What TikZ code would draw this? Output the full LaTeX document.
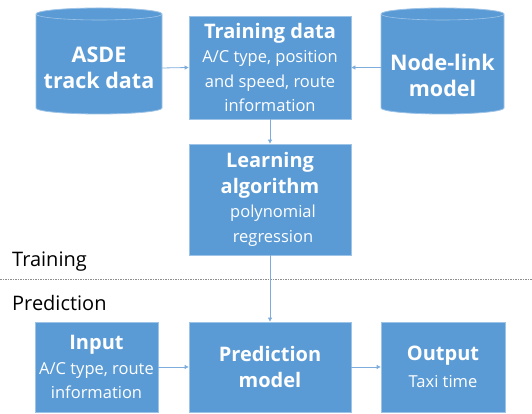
\documentclass[tikz,border=0pt]{standalone}
\usepackage{fontspec}
\setmainfont{Open Sans}
\usetikzlibrary{arrows.meta}
\definecolor{boxblue}{HTML}{5B9BD5}
\definecolor{edgeblue}{HTML}{9DC3E6}
\definecolor{linkblue}{HTML}{7EADDD}
\definecolor{dashgray}{HTML}{8C8C8C}
\tikzset{
  bluebox/.style={rectangle, fill=boxblue, draw=edgeblue, line width=0.8pt, text=white, align=center, inner sep=0pt,
    font=\fontsize{16.5}{24.5}\selectfont},
  cylfill/.style={fill=boxblue, draw=edgeblue, line width=0.8pt},
  cyltext/.style={rectangle, draw=none, text=white, align=center, inner sep=0pt,
    font=\fontsize{21.5}{26}\selectfont\bfseries},
  conn/.style={draw=linkblue, line width=0.8pt, -{Triangle[length=4pt,width=4pt]}},
  phase/.style={anchor=west, inner sep=0pt, font=\fontsize{20}{24}\selectfont},
}
\newcommand{\ttl}[1]{{\fontsize{20}{25}\selectfont\bfseries #1}}
\begin{document}
\begin{tikzpicture}[x=1pt,y=1pt]
\useasboundingbox (0,0) rectangle (532,414);
% cylinders
\path[cylfill] (36,400) -- (36,306) arc[start angle=180, end angle=360, x radius=63, y radius=6] -- (162,400) arc[start angle=0, end angle=180, x radius=63, y radius=6] -- cycle;
\draw[edgeblue, line width=0.6pt] (36,400) arc[start angle=180, end angle=360, x radius=63, y radius=6];
\path[cylfill] (381,400) -- (381,306) arc[start angle=180, end angle=360, x radius=61.5, y radius=6] -- (504,400) arc[start angle=0, end angle=180, x radius=61.5, y radius=6] -- cycle;
\draw[edgeblue, line width=0.6pt] (381,400) arc[start angle=180, end angle=360, x radius=61.5, y radius=6];
\node[cyltext, minimum width=126pt, minimum height=100pt] (asde) at (99,346) {ASDE\\track data};
\node[cyltext, minimum width=123pt, minimum height=100pt] (nodelink) at (442.5,339) {Node-link\\model};
% boxes
\node[bluebox, minimum width=162pt, minimum height=103pt] (train) at (270,346.5)
  {\ttl{Training data}\\A/C type, position\\and speed, route\\information};
\node[bluebox, minimum width=162pt, minimum height=111pt] (learn) at (270,214.5)
  {\ttl{Learning}\\[1pt]\ttl{algorithm}\\\hspace*{6pt}polynomial\\\hspace*{6pt}regression};
\node[bluebox, minimum width=123pt, minimum height=90pt] (input) at (96.5,47)
  {\ttl{Input}\\A/C type, route\\information};
\node[bluebox, minimum width=162pt, minimum height=90pt] (pred) at (270,47)
  {\ttl{Prediction}\\[2pt]\ttl{model}};
\node[bluebox, minimum width=124pt, minimum height=90pt] (output) at (443,47)
  {\ttl{Output}\\[3pt]Taxi time};
% phase labels
\node[phase] (trainlbl) at (12,152) {Training};
\node[phase] (predlbl) at (12,111) {Prediction};
\coordinate (dl) at (0,135);
\coordinate (dr) at (532,135);
\draw[dashgray, line width=0.6pt, dash pattern=on 1.5pt off 1pt] (dl) -- (dr);
% connectors
\draw[conn] (asde.east) -- (train.west);
\draw[conn] (nodelink.west |- train.west) -- (train.east);
\draw[conn] (train.south) -- (learn.north);
\draw[conn] (learn.south) -- (pred.north);
\draw[conn] (input.east) -- (pred.west);
\draw[conn] (pred.east) -- (output.west);
\end{tikzpicture}
\end{document}
